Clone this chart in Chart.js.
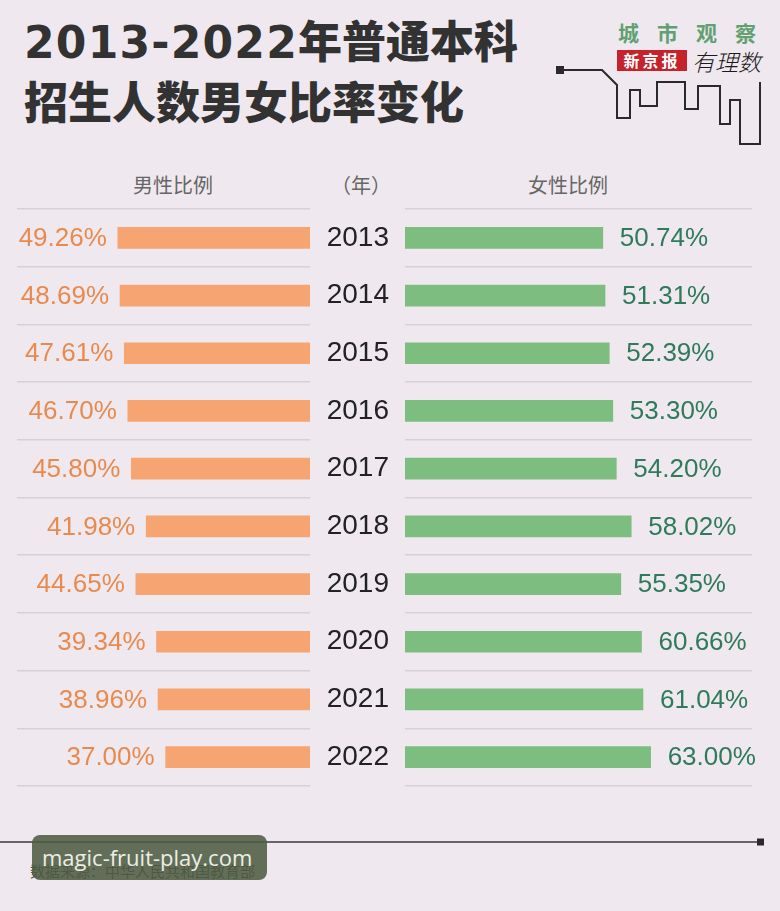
<!DOCTYPE html>
<html><head><meta charset="utf-8">
<script src="https://cdn.jsdelivr.net/npm/chart.js@4/dist/chart.umd.min.js"></script>
<style>
html,body{margin:0;padding:0;}
body{width:780px;height:911px;background:#efe9ef;position:relative;overflow:hidden;font-family:"Noto Sans CJK SC",sans-serif;}
.abs{position:absolute;white-space:nowrap;}
.title{left:24px;font-weight:900;color:#323232;font-size:44px;line-height:44px;}
.title .num{font-family:"DejaVu Sans";font-weight:bold;letter-spacing:1.2px;}
.hdr{top:172px;font-size:20px;line-height:26px;color:#666;font-weight:400;}
canvas{position:absolute;}
</style></head>
<body>
<div class="abs title" style="top:17px"><span class="num">2013-2022</span>年普通本科</div>
<div class="abs title" style="top:78px">招生人数男女比率变化</div>

<svg class="abs" style="left:0;top:0" width="780" height="911">
  <polyline fill="none" stroke="#2a2a2a" stroke-width="2"
    points="560,70 602,70 617,85 617,118 630,118 630,90 640,90 640,106 657,106 657,82 685,82 685,109 698,109 698,86 720,86 720,124 730,124 730,100 740,100 740,144 760,144 760,82"/>
  <rect x="556" y="66" width="8" height="8" fill="#2a2a2a"/>
  <line x1="0" y1="842" x2="760" y2="842" stroke="#3a3a3a" stroke-width="1.5"/>
  <rect x="757" y="838.5" width="7" height="7" fill="#2a2a2a"/>
</svg>
<div class="abs" style="left:618px;top:18px;font-size:21px;line-height:28px;color:#62a072;font-weight:700;letter-spacing:18px;">城市观察</div>
<div class="abs" style="left:617px;top:50px;width:70px;height:21px;background:#c6222b;color:#fff;font-size:16px;line-height:21px;font-weight:700;text-align:center;letter-spacing:3px;">新京报</div>
<div class="abs" style="left:692px;top:46px;font-size:23px;line-height:30px;color:#1a1a1a;font-style:italic;font-weight:300;">有理数</div>

<div class="abs hdr" style="left:133px">男性比例</div>
<div class="abs hdr" style="left:331px">（年）</div>
<div class="abs hdr" style="left:528px">女性比例</div>

<canvas id="cl" width="300" height="581" style="left:10px;top:207px"></canvas>
<canvas id="cr" width="460" height="581" style="left:320px;top:207px"></canvas>

<div class="abs" style="left:30px;top:860px;font-size:15px;line-height:22px;color:#444;">数据来源：中华人民共和国教育部</div>
<div class="abs" style="left:32px;top:835px;width:235px;height:45px;border-radius:8px;background:rgba(78,92,66,0.87);"></div>
<div class="abs" style="left:42px;top:841px;font-family:'Open Sans';font-size:22px;line-height:32px;color:#eceee6;">magic-fruit-play.com</div>

<script>
const years = ['2013','2014','2015','2016','2017','2018','2019','2020','2021','2022'];
const maleShare = [49.26, 48.69, 47.61, 46.70, 45.80, 41.98, 44.65, 39.34, 38.96, 37.00];
const femaleShare = [50.74, 51.31, 52.39, 53.30, 54.20, 58.02, 55.35, 60.66, 61.04, 63.00];

const valueLabels = {
  id: 'valueLabels',
  afterDatasetsDraw(chart, args, opts) {
    const ctx = chart.ctx;
    const meta = chart.getDatasetMeta(0);
    const data = chart.data.datasets[0].data;
    ctx.save();
    ctx.font = opts.font;
    ctx.fillStyle = opts.color;
    ctx.textBaseline = 'middle';
    ctx.textAlign = opts.side === 'left' ? 'right' : 'left';
    meta.data.forEach((bar, i) => {
      const x = opts.side === 'left' ? bar.x - opts.gap : bar.x + opts.gap;
      ctx.fillText(data[i].toFixed(2) + '%', x, bar.y + 1);
    });
    ctx.restore();
  }
};

const gridColor = '#d6d1d6';
const noPad = s => { s.paddingTop = 0; s.paddingBottom = 0; };

new Chart(document.getElementById('cl'), {
  type: 'bar',
  data: { labels: years, datasets: [{ data: maleShare, backgroundColor: '#f6a572', barThickness: 21, borderWidth: 0 }] },
  options: {
    indexAxis: 'y', responsive: false, animation: false,
    layout: { padding: { top: 2, bottom: 2, left: 7, right: 0 } },
    plugins: { legend: { display: false }, tooltip: { enabled: false },
      valueLabels: { side: 'left', gap: 11, font: '26px "Liberation Sans", Arial, sans-serif', color: '#e88a4e' } },
    scales: {
      x: { display: false, reverse: true, min: 0, max: 75.1 },
      y: { display: true, ticks: { display: false }, border: { display: false },
        grid: { color: gridColor, lineWidth: 1.5, drawTicks: false, offset: true },
        afterFit: s => { s.width = 0; noPad(s); } }
    }
  },
  plugins: [valueLabels]
});

new Chart(document.getElementById('cr'), {
  type: 'bar',
  data: { labels: years, datasets: [{ data: femaleShare, backgroundColor: '#7dbd80', barThickness: 21, borderWidth: 0 }] },
  options: {
    indexAxis: 'y', responsive: false, animation: false,
    layout: { padding: { top: 2, bottom: 2, left: 0, right: 28 } },
    plugins: { legend: { display: false }, tooltip: { enabled: false },
      valueLabels: { side: 'right', gap: 17, font: '26px "Liberation Sans", Arial, sans-serif', color: '#2e7a5a' } },
    scales: {
      x: { display: false, min: 0, max: 89 },
      y: { display: true, position: 'left', border: { display: false },
        ticks: { color: '#222', padding: 16, font: { family: '"Liberation Sans", Arial, sans-serif', size: 28 } },
        grid: { color: gridColor, lineWidth: 1.5, drawTicks: false, offset: true },
        afterFit: s => { s.width = 85; noPad(s); } }
    }
  },
  plugins: [valueLabels]
});
</script>
</body></html>
